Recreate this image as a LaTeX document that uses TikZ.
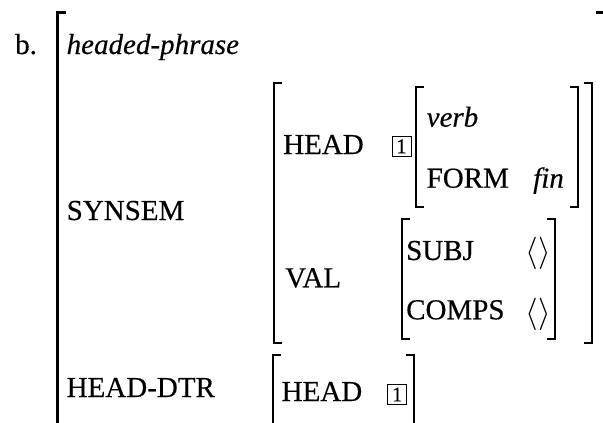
\documentclass[tikz,border=0pt]{standalone}
\usepackage{fontspec}
\setmainfont[FakeBold=0.4]{Liberation Serif}

% left and right square brackets of one AVM: left x, right x, top y, bottom y
\newcommand\avmbracket[4]{%
  \draw[avm] (#1+8,#3) -- (#1,#3) -- (#1,#4) -- (#1+8,#4);
  \draw[avm] (#2-8,#3) -- (#2,#3) -- (#2,#4) -- (#2-8,#4);}
% empty list
\newcommand\elist{\scalebox{1.3}{$\langle\rangle$}}

\begin{document}
\begin{tikzpicture}[x=1pt,y=-1pt,
  every node/.style={inner sep=0pt, font=\fontsize{29}{33}\selectfont},
  feat/.style={anchor=base west},
  typ/.style={feat, font=\fontsize{29}{33}\selectfont\itshape},
  tagbox/.style={draw, line width=0.8pt, minimum width=19pt, minimum height=20.5pt,
                 font=\fontsize{21}{21}\selectfont},
  avm/.style={line width=2.1pt}]
\useasboundingbox (0,0) rectangle (603,423);
\clip (0,0) rectangle (603,423);

% brackets
\avmbracket{57.5}{604}{12.5}{440}      % whole phrase
\avmbracket{274}{592}{82.7}{343}       % SYNSEM value
\avmbracket{415.7}{578}{86.7}{206.7}   % HEAD value
\avmbracket{401.7}{555}{219.3}{339.3}  % VAL value
\avmbracket{273.3}{414}{355}{440}      % HEAD-DTR value

% features and values
\node[feat] (ex)     at (15,54)      {b.};
\node[typ]  (type)   at (66.5,54)    {headed-phrase};
\node[feat] (synsem) at (66.5,220)   {SYNSEM};
\node[feat] (hdtr)   at (66.5,397)   {HEAD-DTR};

\node[feat]   (head1) at (283,154)      {HEAD};
\node[tagbox] (tag1)  at (401.5,146.3)  {1};
\node[typ]    (verb)  at (426.5,126.7)  {verb};
\node[feat]   (form)  at (426.5,187.7)  {FORM};
\node[typ]    (fin)   at (533,187.7)    {fin};

\node[feat] (val)    at (285,287.3)  {VAL};
\node[feat] (subj)   at (406,260)    {SUBJ};
\node[feat] (comps)  at (406,319.3)  {COMPS};
\node (subjv)  at (538.5,253.5) {\elist};
\node (compsv) at (538.5,314)   {\elist};

\node[feat]   (head2) at (281.5,401)    {HEAD};
\node[tagbox] (tag2)  at (397.2,394.5)  {1};
\end{tikzpicture}
\end{document}
